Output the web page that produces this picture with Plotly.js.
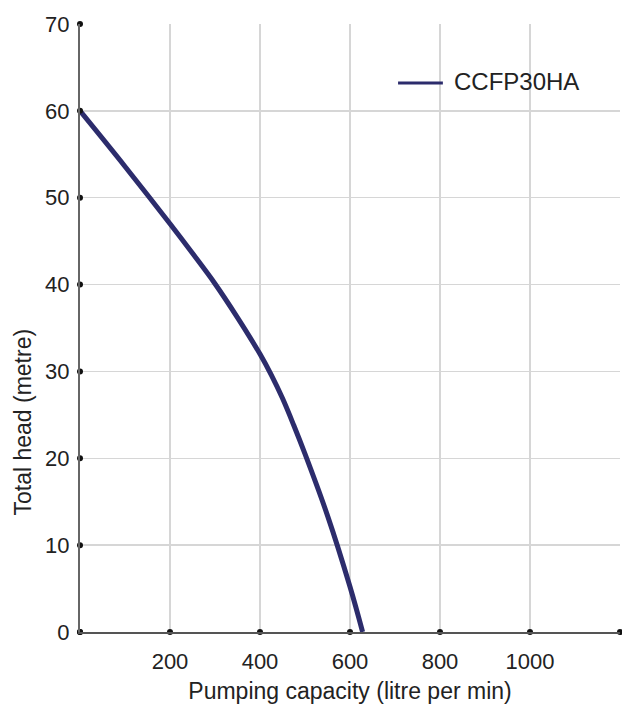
<!DOCTYPE html>
<html>
<head>
<meta charset="utf-8">
<script src="https://cdn.plot.ly/plotly-3.0.1.min.js"></script>
<style>
html,body{margin:0;padding:0;background:#fff;}
#chart{width:622px;height:704px;}
</style>
</head>
<body>
<div id="chart"></div>
<script>
// Data
var seriesName = "CCFP30HA";
var capacity = [0, 100, 200, 250, 300, 350, 400, 425, 450, 475, 500, 550, 600, 628];          // litre per min
var head     = [60, 53.6, 47.0, 43.6, 40.1, 36.2, 32.0, 29.6, 26.9, 23.8, 20.5, 13.4, 5.2, 0];   // metre

var xTickVals = [0, 200, 400, 600, 800, 1000, 1200];
var xTickText = ["", "200", "400", "600", "800", "1000", ""];
var yTickVals = [0, 10, 20, 30, 40, 50, 60, 70];
var yTickText = ["0", "10", "20", "30", "40", "50", "60", "70"];

var xTitle = "Pumping capacity (litre per min)";
var yTitle = "Total head (metre)";

var FONT = "Liberation Sans, Arial, sans-serif";
var LINE_COLOR = "#2c2c6c";

var zerosX = xTickVals.map(function(){return 0;});
var zerosY = yTickVals.map(function(){return 0;});

var traces = [
  {
    x: capacity, y: head, type: "scatter", mode: "lines",
    name: seriesName,
    line: {color: LINE_COLOR, width: 5, shape: "spline", smoothing: 1},
    showlegend: false
  },
  {
    x: xTickVals, y: zerosX, type: "scatter", mode: "markers",
    marker: {color: "#111", size: 6}, cliponaxis: false,
    showlegend: false, hoverinfo: "skip"
  },
  {
    x: zerosY, y: yTickVals, type: "scatter", mode: "markers",
    marker: {color: "#111", size: 6}, cliponaxis: false,
    showlegend: false, hoverinfo: "skip"
  }
];

var layout = {
  width: 622, height: 704,
  margin: {l: 80, r: 2, t: 24, b: 72},
  paper_bgcolor: "#fff", plot_bgcolor: "#fff",
  font: {family: FONT, color: "#222", size: 22},
  showlegend: false,
  xaxis: {
    range: [0, 1200], fixedrange: true,
    tickvals: xTickVals, ticktext: xTickText,
    showgrid: true, gridcolor: "#d6d6d6", gridwidth: 1.5,
    zeroline: false, showline: true, linecolor: "#555", linewidth: 2,
    ticks: "", ticklabelstandoff: 9,
    tickfont: {family: FONT, size: 22, color: "#222"},
    title: {text: xTitle, font: {family: FONT, size: 23, color: "#222"}, standoff: 12}
  },
  yaxis: {
    range: [0, 70], fixedrange: true,
    tickvals: yTickVals, ticktext: yTickText,
    showgrid: true, gridcolor: "#d6d6d6", gridwidth: 1.5,
    zeroline: false, showline: true, linecolor: "#666", linewidth: 2,
    ticks: "", ticklabelstandoff: 4,
    tickfont: {family: FONT, size: 22, color: "#222"},
    title: {text: ""}
  },
  shapes: [
    {
      type: "line", xref: "paper", yref: "paper",
      x0: 0.589, x1: 0.672, y0: 0.903, y1: 0.903,
      line: {color: LINE_COLOR, width: 3}
    }
  ],
  annotations: [
    {
      text: seriesName, xref: "paper", yref: "paper",
      x: 0.688, y: 0.905, xanchor: "left", yanchor: "middle",
      showarrow: false,
      font: {family: FONT, size: 24, color: "#222"}
    },
    {
      text: yTitle, xref: "paper", yref: "paper",
      x: -0.105, y: 0.345, xanchor: "center", yanchor: "middle",
      textangle: -90, showarrow: false,
      font: {family: FONT, size: 23, color: "#222"}
    }
  ]
};

Plotly.newPlot("chart", traces, layout, {displayModeBar: false, staticPlot: true});
</script>
</body>
</html>
